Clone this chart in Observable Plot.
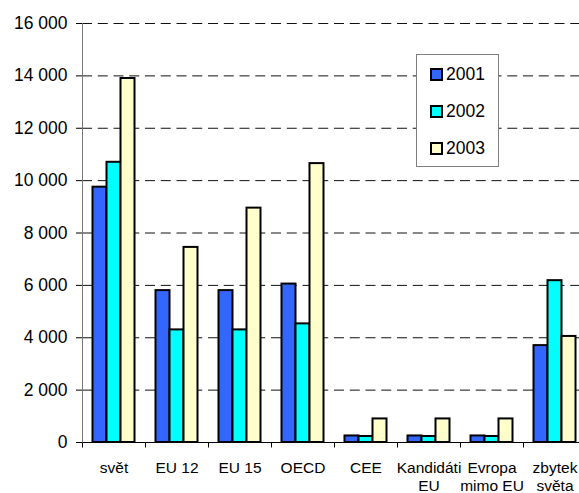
<!DOCTYPE html>
<html>
<head>
<meta charset="utf-8">
<script src="https://cdn.jsdelivr.net/npm/d3@7"></script>
<script src="https://cdn.jsdelivr.net/npm/@observablehq/plot@0.6"></script>
<style>
  html, body { margin: 0; padding: 0; background: #fff; overflow: hidden; }
  #wrap { position: relative; width: 579px; height: 493px; font-family: "Liberation Sans", Arial, sans-serif; }
  #legend { position: absolute; left: 416px; top: 54px; width: 81px; height: 111px; border: 1px solid #808080; background: #fff; }
  .item { position: absolute; left: 13px; height: 20px; display: flex; align-items: center; font-size: 17.5px; color: #000; }
  .sw { width: 9px; height: 9px; border: 2px solid #000; margin-right: 3px; }
</style>
</head>
<body>
<div id="wrap"></div>
<script>
const categories = ["svět", "EU 12", "EU 15", "OECD", "CEE", "Kandidáti EU", "Evropa mimo EU", "zbytek světa"];
const categoryLabels = ["svět", "EU 12", "EU 15", "OECD", "CEE", "Kandidáti\nEU", "Evropa\nmimo EU", "zbytek\nsvěta"];
const years = ["2001", "2002", "2003"];
const values2001 = [9750, 5800, 5800, 6050, 250, 250, 250, 3700];
const values2002 = [10700, 4300, 4300, 4530, 230, 230, 230, 6180];
const values2003 = [13900, 7450, 8950, 10650, 900, 900, 900, 4050];
const yTicks = [0, 2000, 4000, 6000, 8000, 10000, 12000, 14000, 16000];
const colors = ["#3366FF", "#00FFFF", "#FFFFCC"];

const series = [values2001, values2002, values2003];
const data = [];
categories.forEach((c, i) => years.forEach((y, j) => data.push({category: c, year: y, value: series[j][i]})));

const fmt = d3.formatLocale({thousands: " ", grouping: [3], decimal: ","}).format(",");
const labelOf = Object.fromEntries(categories.map((c, i) => [c, categoryLabels[i]]));

const plot = Plot.plot({
  width: 579,
  height: 493,
  marginTop: 23,
  marginBottom: 51,
  marginLeft: 82,
  marginRight: -7,
  style: {fontFamily: "'Liberation Sans', Arial, sans-serif", background: "transparent", overflow: "visible"},
  fx: {domain: categories, padding: 0, axis: null},
  x: {domain: years, paddingInner: 0, paddingOuter: 0.75, axis: null, round: false},
  y: {domain: [0, 16000], axis: null},
  color: {domain: years, range: colors},
  marks: [
    Plot.ruleY(yTicks.filter(d => d > 0), {stroke: "#111", strokeWidth: 1, strokeDasharray: "10,5.75"}),
    Plot.barY(data, {fx: "category", x: "year", y: "value", fill: "year", stroke: "#000", strokeWidth: 2}),
    Plot.ruleY([0], {stroke: "#000"}),
    Plot.frame({
      facet: "super",
      stroke: "none",
      render: (index, scales, values, dims) => {
        const g = d3.create("svg:g");
        const fx = scales.fx;
        const y0 = Math.round(scales.y(0)) + 0.5;
        const step = fx(categories[1]) - fx(categories[0]);
        const xs = categories.map(c => fx(c));
        xs.push(xs[xs.length - 1] + step);
        xs.forEach(x => {
          const xx = Math.round(x) + 0.5;
          g.append("line").attr("x1", xx).attr("x2", xx).attr("y1", y0).attr("y2", y0 + 5).attr("stroke", "#000");
        });
        const xl = Math.round(dims.marginLeft) + 0.5;
        g.append("line").attr("x1", xl).attr("x2", xl)
          .attr("y1", scales.y(16000)).attr("y2", y0).attr("stroke", "#777");
        return g.node();
      }
    }),
    Plot.axisY({ticks: yTicks, tickFormat: fmt, tickSize: 6, tickPadding: 9, fontSize: 17.5, stroke: "#000", color: "#000", label: null}),
    Plot.axisFx({anchor: "bottom", tickSize: 0, tickPadding: 17, fontSize: 15.5, lineHeight: 1.2, tickFormat: d => labelOf[d], color: "#000", label: null})
  ]
});

const wrap = document.getElementById("wrap");
wrap.appendChild(plot);

const legend = document.createElement("div");
legend.id = "legend";
const tops = [9, 46, 83];
years.forEach((y, i) => {
  const item = document.createElement("div");
  item.className = "item";
  item.style.top = tops[i] + "px";
  const sw = document.createElement("div");
  sw.className = "sw";
  sw.style.background = colors[i];
  const t = document.createElement("span");
  t.textContent = y;
  item.appendChild(sw);
  item.appendChild(t);
  legend.appendChild(item);
});
wrap.appendChild(legend);
</script>
</body>
</html>
